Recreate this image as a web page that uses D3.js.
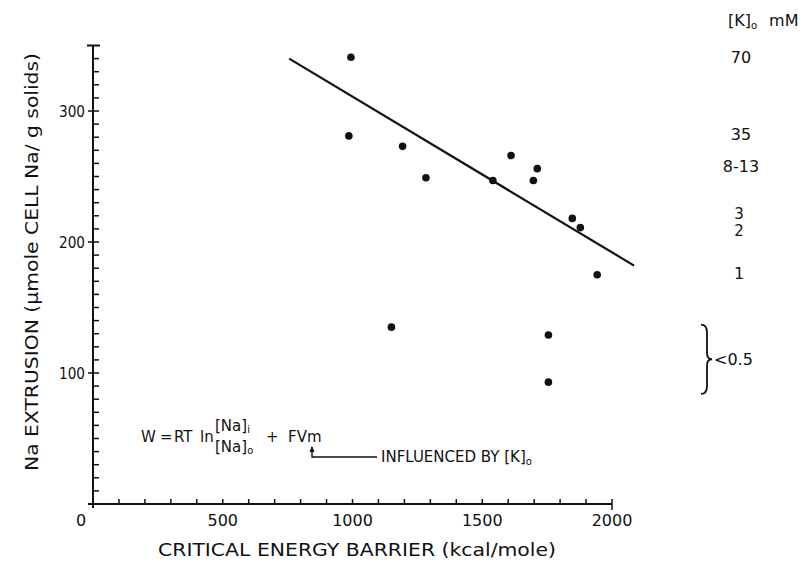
<!DOCTYPE html>
<html>
<head>
<meta charset="utf-8">
<script src="https://cdn.jsdelivr.net/npm/d3@7"></script>
<style>
  body { margin: 0; background: #fff; }
  svg { font-family: "DejaVu Sans", sans-serif; }
  text { fill: #111; }
</style>
</head>
<body>
<div id="chart"></div>
<script>
// Ma'lumotlar (rasmdan o'qilgan)
const barrier = [994, 986, 1193, 1283, 1541, 1611, 1712, 1697, 1847, 1878, 1943, 1150, 1755, 1755];
const extrusion = [341, 281, 273, 249, 247, 266, 256, 247, 218, 211, 175, 135, 129, 93];

// regressiya chizig'ining uchlari
const fitX = [756, 2085];
const fitY = [340, 182];

const xTicks = [0, 500, 1000, 1500, 2000];
const yTicks = [100, 200, 300];

// o'ng tomondagi [K]o yozuvlari, extrusion qiymatiga joylashtiriladi
const kLabels = ["70", "35", "8-13", "3", "2", "1"];
const kLevels = [341, 282, 258, 222, 209, 176];
const lowLabel = "<0.5";
const lowRange = [84, 137];

const width = 809, height = 562;

const x = d3.scaleLinear().domain([0, 2000]).range([93, 612]);
const y = d3.scaleLinear().domain([0, 300]).range([504, 111]);

const svg = d3.select("#chart").append("svg")
    .attr("width", width)
    .attr("height", height);

svg.append("rect").attr("width", width).attr("height", height).attr("fill", "#fff");

const ink = "#111";

// y o'qi
const yAxis = svg.append("g").attr("class", "y-axis");
yAxis.append("line")
    .attr("x1", x(0)).attr("x2", x(0))
    .attr("y1", y(350)).attr("y2", y(0) + 4)
    .attr("stroke", ink).attr("stroke-width", 2);
// tepadagi qopqoq
yAxis.append("line")
    .attr("x1", x(0) - 6).attr("x2", x(0) + 7)
    .attr("y1", y(350)).attr("y2", y(350))
    .attr("stroke", ink).attr("stroke-width", 2);
// har 10 birlikda kichik chiziqchalar
yAxis.selectAll("line.minor")
    .data(d3.range(10, 350, 10))
    .enter().append("line")
    .attr("class", "minor")
    .attr("x1", d => d % 100 === 0 ? x(0) - 5 : x(0))
    .attr("x2", x(0) + 6)
    .attr("y1", d => y(d)).attr("y2", d => y(d))
    .attr("stroke", ink).attr("stroke-width", 1.5);
yAxis.selectAll("text")
    .data(yTicks)
    .enter().append("text")
    .attr("x", x(0) - 8)
    .attr("y", d => y(d))
    .attr("dy", "0.36em")
    .attr("text-anchor", "end")
    .attr("textLength", 26)
    .attr("lengthAdjust", "spacingAndGlyphs")
    .style("font-size", "16px")
    .text(d => d);

// x o'qi
const xAxis = svg.append("g").attr("class", "x-axis");
xAxis.append("line")
    .attr("x1", x(0) - 5).attr("x2", x(2000))
    .attr("y1", y(0)).attr("y2", y(0))
    .attr("stroke", ink).attr("stroke-width", 2);
xAxis.selectAll("line.minor")
    .data(d3.range(100, 2001, 100))
    .enter().append("line")
    .attr("class", "minor")
    .attr("x1", d => x(d)).attr("x2", d => x(d))
    .attr("y1", y(0) - 5)
    .attr("y2", d => d === 2000 ? y(0) + 6 : y(0))
    .attr("stroke", ink).attr("stroke-width", 1.5);
xAxis.selectAll("text")
    .data(xTicks)
    .enter().append("text")
    .attr("x", d => d === 0 ? x(d) - 12 : x(d))
    .attr("y", y(0) + 22)
    .attr("text-anchor", "middle")
    .style("font-size", "16px")
    .text(d => d);

// o'q nomlari
svg.append("text")
    .attr("x", 357).attr("y", 556)
    .attr("text-anchor", "middle")
    .attr("textLength", 398)
    .attr("lengthAdjust", "spacingAndGlyphs")
    .style("font-size", "17px")
    .text("CRITICAL ENERGY BARRIER (kcal/mole)");

svg.append("text")
    .attr("transform", `translate(38, 262) rotate(-90)`)
    .attr("text-anchor", "middle")
    .attr("textLength", 418)
    .attr("lengthAdjust", "spacingAndGlyphs")
    .style("font-size", "17px")
    .text("Na EXTRUSION (\u00b5mole CELL  Na/ g  solids)");

// regressiya chizig'i
svg.append("line")
    .attr("x1", x(fitX[0])).attr("y1", y(fitY[0]))
    .attr("x2", x(fitX[1])).attr("y2", y(fitY[1]))
    .attr("stroke", ink).attr("stroke-width", 2.2);

// nuqtalar
svg.selectAll("circle.pt")
    .data(barrier.map((b, i) => ({ b, e: extrusion[i] })))
    .enter().append("circle")
    .attr("class", "pt")
    .attr("cx", d => x(d.b))
    .attr("cy", d => y(d.e))
    .attr("r", 3.8)
    .attr("fill", ink);

// [K]o sarlavhasi
const header = svg.append("text")
    .attr("x", 728).attr("y", 26)
    .style("font-size", "16px");
header.append("tspan").text("[K]");
header.append("tspan").attr("dy", 3).style("font-size", "10px").text("o");
header.append("tspan").attr("dy", -3).attr("dx", 12).text("mM");

svg.selectAll("text.k")
    .data(kLabels)
    .enter().append("text")
    .attr("class", "k")
    .attr("x", (d, i) => i >= 3 ? 739 : 741)
    .attr("y", (d, i) => y(kLevels[i]))
    .attr("dy", "0.36em")
    .attr("text-anchor", "middle")
    .style("font-size", (d, i) => i === 3 || i === 4 ? "15px" : "16px")
    .text(d => d);

// qavs
const bTop = y(lowRange[1]), bBot = y(lowRange[0]), bMid = (bTop + bBot) / 2;
svg.append("path")
    .attr("d", `M 701 ${bTop} Q 707 ${bTop} 707 ${bTop + 8} L 707 ${bMid - 6} Q 707 ${bMid} 712 ${bMid}
                Q 707 ${bMid} 707 ${bMid + 6} L 707 ${bBot - 8} Q 707 ${bBot} 701 ${bBot}`)
    .attr("fill", "none").attr("stroke", ink).attr("stroke-width", 1.8);
svg.append("text")
    .attr("x", 714).attr("y", bMid)
    .attr("dy", "0.36em")
    .style("font-size", "16px")
    .text(lowLabel);

// formula
const fy = 442;
const fs = "15px";
const formulaParts = [["W", 141], ["=", 160], ["RT", 174], ["ln", 200], ["+", 266], ["FVm", 288]];
formulaParts.forEach(([t, px]) => {
    svg.append("text").attr("x", px).attr("y", fy).style("font-size", fs).text(t);
});
const num = svg.append("text").attr("x", 215).attr("y", fy - 11).style("font-size", fs);
num.append("tspan").text("[Na]");
num.append("tspan").attr("dy", 2).style("font-size", "10px").text("i");
const den = svg.append("text").attr("x", 215).attr("y", fy + 10).style("font-size", fs);
den.append("tspan").text("[Na]");
den.append("tspan").attr("dy", 2).style("font-size", "10px").text("o");

// strelka
svg.append("path")
    .attr("d", `M 312 ${fy + 5} L 312 ${fy + 15} L 377 ${fy + 15}`)
    .attr("fill", "none").attr("stroke", ink).attr("stroke-width", 1.4);
svg.append("path")
    .attr("d", `M 309.5 ${fy + 10} L 312 ${fy + 4} L 314.5 ${fy + 10} Z`)
    .attr("fill", ink);

const infl = svg.append("text").attr("x", 381).attr("y", fy + 20).style("font-size", "15px");
infl.append("tspan").text("INFLUENCED BY [K]");
infl.append("tspan").attr("dy", 3).style("font-size", "10px").text("o");
</script>
</body>
</html>
